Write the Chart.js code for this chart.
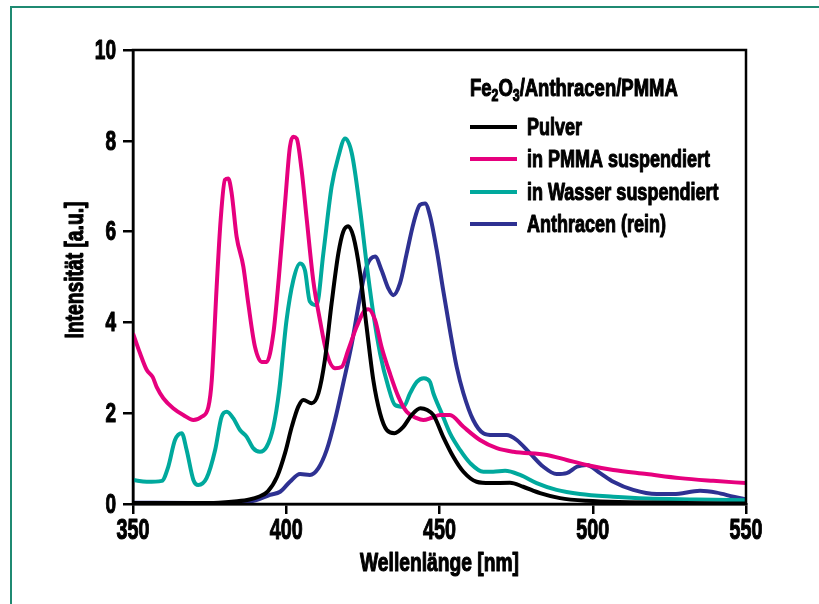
<!DOCTYPE html>
<html>
<head>
<meta charset="utf-8">
<script src="https://cdn.jsdelivr.net/npm/chart.js@4"></script>
<style>
  html, body { margin: 0; padding: 0; background: #fff; }
  #wrap { position: relative; width: 819px; height: 604px; }
</style>
</head>
<body>
<div id="wrap"><canvas id="spectraChart" width="819" height="604"></canvas></div>
<script>
// Fluoreszenzspektren Fe2O3/Anthracen/PMMA

const seriesLabels = ['Pulver', 'in PMMA suspendiert', 'in Wasser suspendiert', 'Anthracen (rein)'];
const seriesColors = ['#000000', '#e6007e', '#00a99d', '#2e3192'];

const xTicks = [350, 400, 450, 500, 550];
const yTicks = [0, 2, 4, 6, 8, 10];

const pulverNm = [350, 360, 370, 378, 384, 388, 391, 394, 397, 399.6, 401.8, 403.9, 405.6, 408.3, 410.5, 412.6, 414.8, 417, 418.6, 420.2, 421.9, 424.1, 426.2, 428.4, 430.6, 432.8, 435.3, 438.2, 440.9, 443.8, 446, 448, 451.2, 454.5, 457.8, 462.1, 466.5, 473, 477.3, 482.8, 489.3, 498, 512, 530, 550];
const pulverVal = [0.02, 0.02, 0.02, 0.03, 0.06, 0.10, 0.16, 0.28, 0.60, 1.12, 1.70, 2.14, 2.29, 2.22, 2.44, 3.17, 4.42, 5.52, 6.00, 6.12, 5.89, 5.08, 3.91, 2.73, 2.00, 1.63, 1.56, 1.70, 1.96, 2.11, 2.07, 1.96, 1.48, 1.04, 0.71, 0.49, 0.46, 0.47, 0.38, 0.24, 0.13, 0.07, 0.04, 0.02, 0.01];

const pmmaNm = [350, 352.3, 354.5, 356.4, 357.7, 359.9, 363.1, 366.4, 369.7, 372.4, 374.6, 375.7, 377.3, 378.6, 380, 381.1, 382.2, 383.8, 386, 387.6, 389.8, 392, 393.6, 395.8, 397.6, 399.6, 401.2, 402.3, 403.4, 405, 406.7, 408.8, 411, 413.2, 415.9, 418.1, 420.2, 423, 425.7, 426.8, 429, 431.1, 433.8, 436.6, 439.3, 442.6, 444.7, 447.5, 450.2, 453.4, 457.8, 463.2, 468.7, 474.1, 485, 491.5, 498, 506.7, 517.6, 528.5, 539.3, 550];
const pmmaVal = [3.76, 3.32, 2.95, 2.80, 2.58, 2.33, 2.11, 1.96, 1.85, 1.92, 2.14, 2.73, 4.79, 6.26, 7.14, 7.17, 6.84, 5.89, 5.23, 4.42, 3.46, 3.13, 3.13, 3.76, 5.0, 6.62, 7.87, 8.09, 8.05, 7.36, 6.26, 4.93, 4.05, 3.32, 2.99, 3.02, 3.39, 3.91, 4.27, 4.29, 4.05, 3.46, 2.88, 2.36, 2.03, 1.89, 1.85, 1.90, 1.96, 1.96, 1.70, 1.41, 1.23, 1.15, 1.08, 0.97, 0.86, 0.75, 0.66, 0.57, 0.51, 0.46];

const wasserNm = [350, 354.5, 359.4, 361.5, 363.7, 365.9, 367.5, 369.7, 371.3, 374, 376.8, 378.9, 380.6, 382.7, 384.9, 387.1, 389.2, 391.4, 393.6, 395.8, 397.7, 400.1, 402.3, 404.5, 406.1, 407.7, 409.9, 412.1, 414.8, 417, 419.2, 421.4, 424.1, 426.2, 428.4, 430.6, 433.3, 435.5, 438.2, 440.4, 442.6, 444.9, 446.9, 448, 450.7, 453.4, 456.7, 460, 464.3, 467.5, 471.4, 476.3, 481.7, 488.2, 495.8, 506.7, 517.6, 533.9, 550];
const wasserVal = [0.53, 0.49, 0.51, 0.82, 1.41, 1.56, 1.19, 0.53, 0.42, 0.57, 1.19, 1.92, 2.03, 1.89, 1.63, 1.48, 1.23, 1.15, 1.26, 1.70, 2.5, 4.05, 4.93, 5.30, 5.15, 4.46, 4.38, 5.52, 6.99, 7.65, 8.05, 7.72, 6.48, 5.30, 4.20, 3.32, 2.58, 2.18, 2.14, 2.44, 2.69, 2.77, 2.69, 2.44, 2.00, 1.56, 1.19, 0.90, 0.71, 0.71, 0.73, 0.64, 0.46, 0.31, 0.22, 0.16, 0.12, 0.10, 0.08];

const anthNm = [350, 370, 385, 390, 394.7, 398, 401.2, 404.5, 407.7, 410.5, 413.2, 415.9, 418.6, 421.4, 424.1, 426.2, 429, 431.1, 433.3, 434.9, 437.1, 439.3, 441.5, 443.6, 445.3, 446.9, 449.1, 451.2, 453.4, 455.6, 457.8, 461, 464.3, 467.5, 471.9, 475.2, 479.5, 483.9, 488.2, 491.5, 494.8, 498, 502.4, 506.7, 513.2, 520.9, 526.3, 535, 540.4, 545.9, 550];
const anthVal = [0.03, 0.02, 0.03, 0.08, 0.20, 0.27, 0.49, 0.66, 0.64, 0.79, 1.19, 1.85, 2.66, 3.54, 4.57, 5.23, 5.45, 5.15, 4.75, 4.60, 4.86, 5.52, 6.18, 6.59, 6.62, 6.35, 5.59, 4.71, 3.83, 3.02, 2.44, 1.85, 1.56, 1.52, 1.52, 1.41, 1.12, 0.82, 0.66, 0.68, 0.82, 0.86, 0.68, 0.49, 0.31, 0.22, 0.22, 0.29, 0.25, 0.16, 0.10];

const FONT = "'Liberation Sans', Arial, sans-serif";

function toPoints(nm, val) {
    return nm.map((x, i) => ({ x: x, y: val[i] }));
}

function makeDataset(idx, nm, val) {
    return {
        label: seriesLabels[idx],
        data: toPoints(nm, val),
        borderColor: seriesColors[idx],
        backgroundColor: seriesColors[idx],
        borderWidth: 4,
        pointRadius: 0,
        tension: 0.4,
        cubicInterpolationMode: 'monotone',
        borderJoinStyle: 'round',
        fill: false
    };
}

// condensed heavy look: squeezed bold text with a thin outline
function squeezed(ctx, text, x, y, size, sx, align) {
    ctx.save();
    ctx.font = 'bold ' + size + 'px ' + FONT;
    const w = ctx.measureText(text).width * sx;
    let left = x;
    if (align === 'center') left = x - w / 2;
    if (align === 'right') left = x - w;
    ctx.translate(left, y);
    ctx.scale(sx, 1);
    ctx.textAlign = 'left';
    ctx.strokeStyle = ctx.fillStyle;
    ctx.lineWidth = 1.1;
    ctx.lineJoin = 'round';
    ctx.fillText(text, 0, 0);
    ctx.strokeText(text, 0, 0);
    ctx.restore();
    return w;
}

const decorPlugin = {
    id: 'decor',
    afterDatasetsDraw(chart) {
        const ctx = chart.ctx;
        const a = chart.chartArea;
        ctx.save();
        ctx.strokeStyle = '#000';
        ctx.lineWidth = 2.5;
        ctx.strokeRect(a.left, a.top, a.right - a.left, a.bottom - a.top);
        ctx.restore();
    },
    afterDraw(chart) {
        const ctx = chart.ctx;
        const a = chart.chartArea;
        const xs = chart.scales.x, ys = chart.scales.y;
        ctx.save();

        // outer green page border
        ctx.strokeStyle = '#1f8a72';
        ctx.lineWidth = 2;
        ctx.beginPath();
        ctx.moveTo(11, 604);
        ctx.lineTo(11, 7);
        ctx.lineTo(819, 7);
        ctx.stroke();

        ctx.fillStyle = '#000';
        ctx.textBaseline = 'middle';

        // tick labels
        yTicks.forEach(v => {
            squeezed(ctx, String(v), 116, ys.getPixelForValue(v) + 1, 28, 0.68, 'right');
        });
        xTicks.forEach(v => {
            squeezed(ctx, String(v), xs.getPixelForValue(v), 531, 29, 0.68, 'center');
        });

        // axis titles
        squeezed(ctx, 'Wellenlänge [nm]', (a.left + a.right) / 2, 564, 26, 0.74, 'center');
        ctx.save();
        ctx.translate(76, 270);
        ctx.rotate(-Math.PI / 2);
        squeezed(ctx, 'Intensität [a.u.]', 0, 0, 26, 0.74, 'center');
        ctx.restore();

        // legend title with subscripts
        ctx.textBaseline = 'alphabetic';
        let x = 470;
        const base = 96;
        const parts = [['Fe', 0], ['2', 1], ['O', 0], ['3', 1], ['/Anthracen/PMMA', 0]];
        parts.forEach(p => {
            x += squeezed(ctx, p[0], x, p[1] ? base + 5 : base, p[1] ? 16 : 24, 0.77, 'left');
        });

        // legend entries
        const rows = [127, 159, 192, 224];
        ctx.textBaseline = 'middle';
        chart.data.datasets.forEach((ds, i) => {
            ctx.strokeStyle = ds.borderColor;
            ctx.lineWidth = 4;
            ctx.beginPath();
            ctx.moveTo(470, rows[i]);
            ctx.lineTo(517, rows[i]);
            ctx.stroke();
            squeezed(ctx, ds.label, 527, rows[i] + 1, 24, 0.75, 'left');
        });

        ctx.restore();
    }
};

const ctx = document.getElementById('spectraChart').getContext('2d');

new Chart(ctx, {
    type: 'line',
    data: {
        datasets: [
            makeDataset(0, pulverNm, pulverVal),
            makeDataset(1, pmmaNm, pmmaVal),
            makeDataset(2, wasserNm, wasserVal),
            makeDataset(3, anthNm, anthVal)
        ]
    },
    options: {
        responsive: false,
        animation: false,
        layout: {
            padding: { left: 0, top: 50, right: 73, bottom: 0 }
        },
        plugins: {
            legend: { display: false },
            tooltip: { enabled: false }
        },
        scales: {
            x: {
                type: 'linear',
                min: 350,
                max: 550,
                afterFit: function(scale) { scale.height = 100; },
                afterBuildTicks: function(scale) {
                    scale.ticks = xTicks.map(v => ({ value: v }));
                },
                grid: {
                    drawOnChartArea: false,
                    drawTicks: true,
                    tickLength: 10,
                    color: '#000',
                    lineWidth: 2.5
                },
                border: { display: true, color: '#000', width: 2.5 },
                ticks: { display: false }
            },
            y: {
                min: 0,
                max: 10,
                afterFit: function(scale) { scale.width = 133; },
                afterBuildTicks: function(scale) {
                    scale.ticks = yTicks.map(v => ({ value: v }));
                },
                grid: {
                    drawOnChartArea: false,
                    drawTicks: true,
                    tickLength: 10,
                    color: '#000',
                    lineWidth: 2.5
                },
                border: { display: true, color: '#000', width: 2.5 },
                ticks: { display: false }
            }
        }
    },
    plugins: [decorPlugin]
});
</script>
</body>
</html>
